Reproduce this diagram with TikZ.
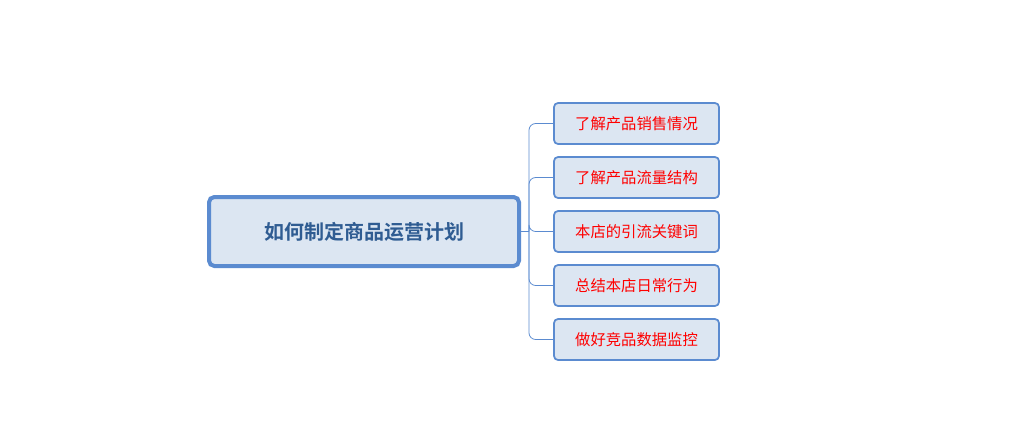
\documentclass[tikz,border=0pt]{standalone}
\usepackage{fontspec}
\newfontfamily\cjk{Noto Sans CJK SC}
\newfontfamily\cjkb{Noto Sans CJK SC Bold}
\definecolor{bd}{HTML}{5B8BD0}
\definecolor{fl}{HTML}{DCE6F2}
\definecolor{rt}{HTML}{2F5C92}
\begin{document}
\begin{tikzpicture}[x=0.75pt,y=-0.75pt,
  rootbox/.style={draw=bd,fill=fl,line width=3pt,rounded corners=4pt,minimum width=310*0.75pt,minimum height=69*0.75pt,font=\cjkb\fontsize{15}{18}\selectfont,text=rt},
  leaf/.style={draw=bd,fill=fl,line width=1.3pt,rounded corners=3pt,minimum width=165*0.75pt,minimum height=41*0.75pt,font=\cjk\fontsize{11.5}{14}\selectfont,text=red},
  link/.style={draw=bd,line width=0.6pt,rounded corners=5pt}]
\useasboundingbox (0,0) rectangle (1025,444);
\node[rootbox] (r) at (364,231.5) {如何制定商品运营计划};
\node[leaf] (a) at (636.5,123.5) {了解产品销售情况};
\node[leaf] (b) at (636.5,177.5) {了解产品流量结构};
\node[leaf] (c) at (636.5,231.5) {本店的引流关键词};
\node[leaf] (d) at (636.5,285.5) {总结本店日常行为};
\node[leaf] (e) at (636.5,339.5) {做好竞品数据监控};
\coordinate (j) at (529,231.5);
\draw[link] (r.east) -- (j);
\foreach \n in {a,b,c,d,e} \draw[link] (j) |- (\n.west);
\end{tikzpicture}
\end{document}
